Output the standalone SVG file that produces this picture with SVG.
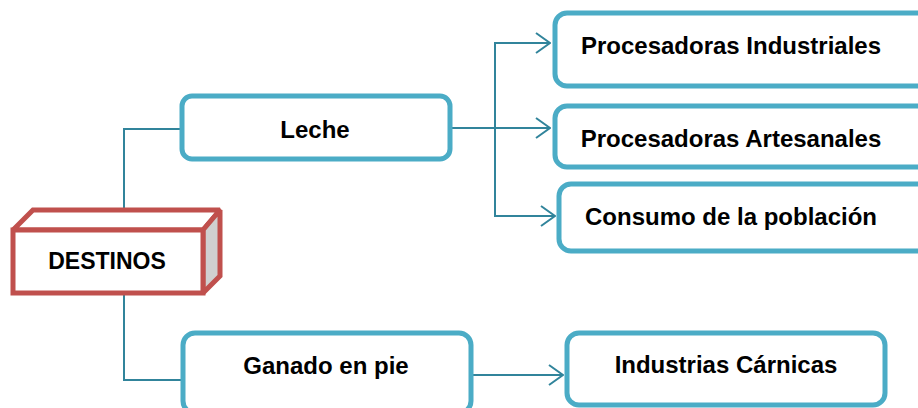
<svg xmlns="http://www.w3.org/2000/svg" width="918" height="408" viewBox="0 0 918 408">
<defs>
<style>
.box{fill:#fff;stroke:#4BACC6;stroke-width:5}
.lbl{font-family:"Liberation Sans",Arial,sans-serif;font-weight:bold;font-size:24px;fill:#000;text-anchor:middle}
.con{fill:none;stroke:#31849B;stroke-width:2}
.red{stroke:#C0504D;stroke-width:5;stroke-linejoin:miter;stroke-miterlimit:2}
</style>
<marker id="arr" viewBox="0 0 16 22" refX="15" refY="11" markerWidth="16" markerHeight="22" markerUnits="userSpaceOnUse" orient="auto">
<path d="M1,1 L15,11 L1,21" fill="none" stroke="#31849B" stroke-width="2"/>
</marker>
</defs>
<rect width="918" height="408" fill="#fff"/>
<g id="connectors">
<path class="con" d="M124,210 V129 H182"/>
<path class="con" d="M124,295 V380 H183"/>
<path class="con" d="M452,128 H550" marker-end="url(#arr)"/>
<path class="con" d="M495,128 V43 H550" marker-end="url(#arr)"/>
<path class="con" d="M495,128 V216 H555" marker-end="url(#arr)"/>
<path class="con" d="M472,375 H563" marker-end="url(#arr)"/>
</g>
<g id="destinos">
<polygon class="red" points="13,230 33,210 220,210 203,230" fill="#fff"/>
<polygon class="red" points="203,230 220,210 220,276 203,293" fill="#D0D0D0"/>
<rect class="red" x="13" y="230" width="190" height="63" fill="#fff"/>
<text class="lbl" x="107" y="269" style="font-size:23px">DESTINOS</text>
</g>
<g id="leche">
<rect class="box" x="182" y="96" width="268" height="63" rx="10"/>
<text class="lbl" x="315" y="138">Leche</text>
</g>
<g id="proc-ind">
<rect class="box" x="555" y="13" width="380" height="73" rx="12"/>
<text class="lbl" x="731" y="54">Procesadoras Industriales</text>
</g>
<g id="proc-art">
<rect class="box" x="555" y="106" width="380" height="61" rx="12"/>
<text class="lbl" x="731" y="147">Procesadoras Artesanales</text>
</g>
<g id="consumo">
<rect class="box" x="559" y="184" width="376" height="67" rx="12"/>
<text class="lbl" x="731" y="225">Consumo de la población</text>
</g>
<g id="ganado">
<rect class="box" x="183" y="333" width="288" height="80" rx="12"/>
<text class="lbl" x="326" y="374">Ganado en pie</text>
</g>
<g id="industrias">
<rect class="box" x="567" y="333" width="318" height="72" rx="12"/>
<text class="lbl" x="726" y="373">Industrias Cárnicas</text>
</g>
</svg>
